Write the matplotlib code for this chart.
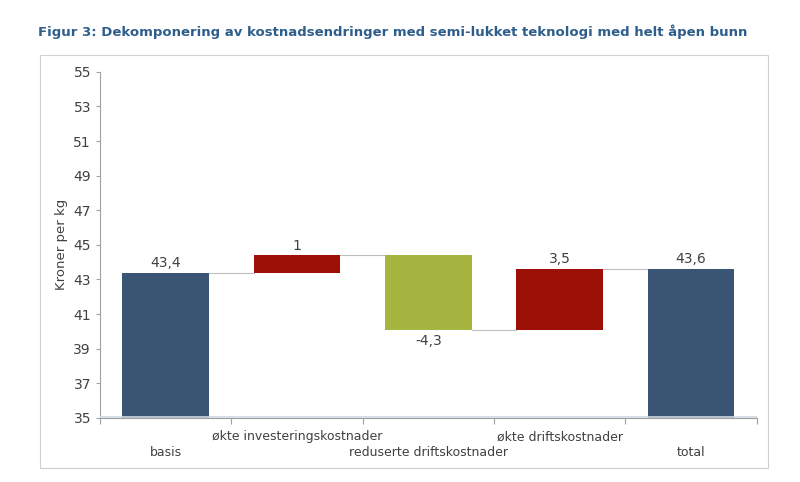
import matplotlib
matplotlib.use("Agg")
import matplotlib.pyplot as plt
from matplotlib.patches import Rectangle

categories = ["basis", "økte investeringskostnader", "reduserte driftskostnader", "økte driftskostnader", "total"]
changes = [43.4, 1.0, -4.3, 3.5, 43.6]
labels = ["43,4", "1", "-4,3", "3,5", "43,6"]
kinds = ["total", "delta", "delta", "delta", "total"]
yticks = [35, 37, 39, 41, 43, 45, 47, 49, 51, 53, 55]

blue, red, green = "#3a5573", "#9c1006", "#a5b53f"

fig = plt.figure(figsize=(8, 4.82), dpi=100)
fig.text(0.048, 0.935, "Figur 3: Dekomponering av kostnadsendringer med semi-lukket teknologi med helt åpen bunn",
         fontsize=9.5, fontweight="bold", color="#2e5e8c", ha="left", va="center")
fig.patches.append(Rectangle((0.05, 0.03), 0.91, 0.855, transform=fig.transFigure,
                             fill=False, edgecolor="#d0d0d0", lw=0.8))
ax = fig.add_axes([0.125, 0.133, 0.821, 0.718])
ax.set_ylim(35, 55)
ax.set_xlim(-0.5, 4.5)
w = 0.66
level = 0
prev_top = None
for i, (c, k, lab) in enumerate(zip(changes, kinds, labels)):
    if k == "total":
        bottom, top = 35, c
        color = blue
        level = c
    else:
        start = level
        level = level + c
        bottom, top = min(start, level), max(start, level)
        color = red if c > 0 else green
    ax.bar(i, top - bottom, bottom=bottom, width=w, color=color, zorder=2)
    if i > 0:
        ax.plot([i - 1 + w / 2, i - w / 2], [prev_end, prev_end], color="#bfbfbf", lw=0.8, zorder=1)
    prev_end = level
    if k == "delta" and c < 0:
        ax.text(i, bottom - 0.25, lab, ha="center", va="top", fontsize=10, color="#404040")
    else:
        ax.text(i, top + 0.15, lab, ha="center", va="bottom", fontsize=10, color="#404040")
ax.axhline(35.05, color="#cfd8e0", lw=1.2, zorder=3)
ax.set_yticks(yticks)
ax.tick_params(axis="y", labelsize=10, colors="#404040", length=3, color="#a0a0a0")
ax.set_xticks([i + 0.5 for i in range(-1, 5)])
ax.set_xticklabels([])
ax.tick_params(axis="x", length=4, color="#a0a0a0")
for i, cat in enumerate(categories):
    y = -0.055 if i % 2 else -0.1
    ax.text(i, y, cat, transform=ax.get_xaxis_transform(), ha="center", va="center",
            fontsize=9, color="#404040")
for s in ["top", "right"]:
    ax.spines[s].set_visible(False)
for s in ["left", "bottom"]:
    ax.spines[s].set_color("#a0a0a0")
ax.set_ylabel("Kroner per kg", fontsize=9.5, color="#404040")
fig.savefig("out.png", dpi=100)
